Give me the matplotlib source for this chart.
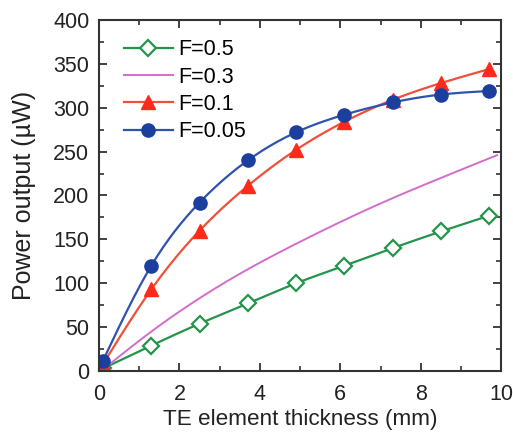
import numpy as np
import matplotlib
matplotlib.use("Agg")
import matplotlib.pyplot as plt
from matplotlib.ticker import MultipleLocator

plt.rcParams['font.family'] = ['Liberation Sans', 'DejaVu Sans']

# TE element thickness (mm) and power output (uW) for each fill factor
thickness = [0.1, 1.3, 2.5, 3.7, 4.9, 6.1, 7.3, 8.5, 9.7]
p_f05 = [3, 29, 54, 77, 100, 120, 140, 159, 177]
p_f01 = [8, 93, 160, 211, 252, 284, 309, 328, 344]
p_f005 = [12, 120, 192, 240, 272, 292, 306, 315, 319]

thickness_f03 = [0.1, 1.3, 2.5, 3.7, 4.9, 6.1, 7.3, 8.5, 9.9]
p_f03 = [2, 45, 83, 116, 145, 172, 197, 220, 246]

labels = ['F=0.5', 'F=0.3', 'F=0.1', 'F=0.05']


def smooth(x, y, n=200):
    """Natural cubic spline through the points, for drawing a smooth line."""
    x = np.asarray(x, float)
    y = np.asarray(y, float)
    m = len(x)
    h = np.diff(x)
    A = np.zeros((m, m))
    b = np.zeros(m)
    A[0, 0] = A[-1, -1] = 1
    for i in range(1, m - 1):
        A[i, i - 1] = h[i - 1]
        A[i, i] = 2 * (h[i - 1] + h[i])
        A[i, i + 1] = h[i]
        b[i] = 3 * ((y[i + 1] - y[i]) / h[i] - (y[i] - y[i - 1]) / h[i - 1])
    c = np.linalg.solve(A, b)
    bb = (np.diff(y) / h) - h * (2 * c[:-1] + c[1:]) / 3
    d = (c[1:] - c[:-1]) / (3 * h)
    xs = np.linspace(x[0], x[-1], n)
    idx = np.clip(np.searchsorted(x, xs) - 1, 0, m - 2)
    dx = xs - x[idx]
    ys = y[idx] + bb[idx] * dx + c[idx] * dx ** 2 + d[idx] * dx ** 3
    return xs, ys


fig = plt.figure(figsize=(5.13, 4.33), dpi=100)
ax = fig.add_axes([0.193, 0.143, 0.784, 0.811])

green = '#23954a'
pink = '#d46ccb'
red_line = '#f0503a'
red_mark = '#ff2a1c'
blue_line = '#2f52ad'
blue_mark = '#1c3f9e'

xs, ys = smooth(thickness, p_f05)
ax.plot(xs, ys, color=green, lw=1.6)
ax.plot(thickness, p_f05, ls='none', marker='D', ms=8, mfc='white',
        mec=green, mew=1.6)

xs, ys = smooth(thickness_f03, p_f03)
ax.plot(xs, ys, color=pink, lw=1.4)

xs, ys = smooth(thickness, p_f01)
ax.plot(xs, ys, color=red_line, lw=1.6)
ax.plot(thickness, p_f01, ls='none', marker='^', ms=10, mfc=red_mark,
        mec=red_mark)

xs, ys = smooth(thickness, p_f005)
ax.plot(xs, ys, color=blue_line, lw=1.6)
ax.plot(thickness, p_f005, ls='none', marker='o', ms=9.5, mfc=blue_mark,
        mec=blue_mark)

# legend handles combining line and marker
h1, = ax.plot([], [], color=green, lw=1.6, marker='D', ms=8, mfc='white',
              mec=green, mew=1.6)
h2, = ax.plot([], [], color=pink, lw=1.4)
h3, = ax.plot([], [], color=red_line, lw=1.6, marker='^', ms=10,
              mfc=red_mark, mec=red_mark)
h4, = ax.plot([], [], color=blue_line, lw=1.6, marker='o', ms=9.5,
              mfc=blue_mark, mec=blue_mark)
ax.legend([h1, h2, h3, h4], labels, loc='upper left', frameon=False,
          fontsize=15.5, handlelength=2.3, handletextpad=0.25,
          labelspacing=0.3, borderaxespad=0.0,
          bbox_to_anchor=(0.04, 0.97))

ax.set_xlim(0, 10)
ax.set_ylim(0, 400)
ax.xaxis.set_major_locator(MultipleLocator(2))
ax.xaxis.set_minor_locator(MultipleLocator(1))
ax.yaxis.set_major_locator(MultipleLocator(50))
ax.yaxis.set_minor_locator(MultipleLocator(25))
ax.tick_params(which='both', direction='in', top=True, right=True,
               colors='#333333', labelcolor='#222222', labelsize=15.5)
ax.tick_params(which='major', length=6, width=1.3)
ax.tick_params(axis='x', which='major', pad=9)
ax.tick_params(axis='y', which='major', pad=7)
ax.tick_params(which='minor', length=3.5, width=1.2)
for s in ax.spines.values():
    s.set_linewidth(1.5)
    s.set_color('#333333')

ax.set_xlabel('TE element thickness (mm)', fontsize=16.2, color='#222222',
              labelpad=3)
ax.set_ylabel('Power output (\u00b5W)', fontsize=18, color='#222222',
              labelpad=12)

fig.savefig('out.png', dpi=100)
